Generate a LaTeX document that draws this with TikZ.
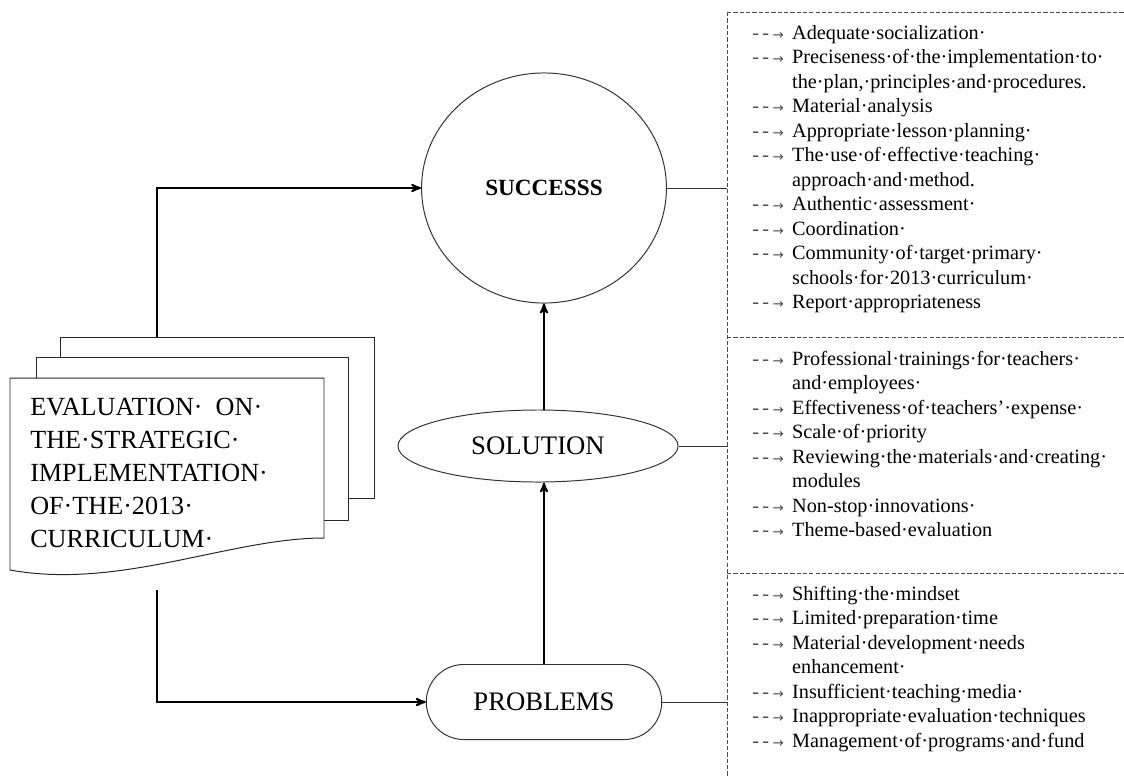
\documentclass[tikz,border=0pt]{standalone}
\usepackage{fontspec}
\setmainfont{Liberation Serif}
\newfontfamily\arrowfont{DejaVu Sans}
\usetikzlibrary{positioning,arrows,shapes.geometric,shapes.misc}
\newcommand{\mrk}{\textcolor{black!70}{-\,-\,{\arrowfont\fontsize{9.5}{9.5}\selectfont →}}}

\begin{document}
\begin{tikzpicture}
    [x=0.025cm,y=-0.025cm,>=stealth',
     flow/.style={->,line width=1.4pt},
     link/.style={line width=0.6pt,draw=black!80},
     sheet/.style={draw=black!85,line width=0.7pt,fill=white},
     frame/.style={draw=black!70,dash pattern=on 3pt off 1.5pt,line width=0.5pt},
     list/.style={anchor=north west,inner sep=0pt,font=\fontsize{14.4}{17.4}\selectfont},
     bubble/.style={draw=black!80,line width=0.7pt,font=\fontsize{19}{22}\selectfont}]
    \useasboundingbox (0,0) rectangle (1124,777);

    % stacked document
    \draw[sheet] (60,337) rectangle (374,498);
    \draw[sheet] (36,357) rectangle (348,520);
    \draw[sheet] (10,378) -- (324,378) -- (324,538)
      .. controls (230,538) and (120,590) .. (10,570) -- cycle;
    \node[anchor=north west,inner sep=0pt,align=left,font=\fontsize{18.6}{23.5}\selectfont] (doc) at (30,398)
      {EVALUATION·\ \ ON·\\THE·STRATEGIC·\\IMPLEMENTATION·\\OF·THE·2013·\\CURRICULUM·};
    \coordinate (up) at (157,337);
    \coordinate (down) at (157,590);

    \node[bubble,ellipse,minimum width=6.12cm,minimum height=5.75cm,
      font=\bfseries\fontsize{16.5}{19}\selectfont] (success) at (544,188) {SUCCESSS};
    \node[bubble,ellipse,minimum width=7cm,minimum height=1.8cm] (solution) at (538,446) {SOLUTION};
    \node[bubble,rounded rectangle,minimum width=6.12cm,minimum height=1.875cm] (problems) at (544,702) {PROBLEMS};

    \draw[flow] (up) |- (success.west);
    \draw[flow] (down) |- (problems.west);
    \draw[flow] (problems.north) -- (problems.north |- solution.south);
    \draw[flow] (solution.north -| success.south) -- (success.south);

    % dashed frames
    \coordinate (rim) at (727,0);
    \draw[frame] (727,12) -- (1124,12);
    \draw[frame] (727,337) -- (1124,337);
    \draw[frame] (727,573) -- (1124,573);
    \draw[frame] (727,12) -- (727,777);
    \draw[link] (success.east) -- (success.east -| rim);
    \draw[link] (solution.east) -- (solution.east -| rim);
    \draw[link] (problems.east) -- (problems.east -| rim);

    \node[list] (goods) at (752,22) {\begin{tabular}{@{}l@{\hspace{6pt}}l@{}}
      \mrk & Adequate·socialization· \\
      \mrk & Preciseness·of·the·implementation·to· \\
           & the·plan,·principles·and·procedures. \\
      \mrk & Material·analysis \\
      \mrk & Appropriate·lesson·planning· \\
      \mrk & The·use·of·effective·teaching· \\
           & approach·and·method. \\
      \mrk & Authentic·assessment· \\
      \mrk & Coordination· \\
      \mrk & Community·of·target·primary· \\
           & schools·for·2013·curriculum· \\
      \mrk & Report·appropriateness
    \end{tabular}};
    \node[list] (fixes) at (752,348) {\begin{tabular}{@{}l@{\hspace{6pt}}l@{}}
      \mrk & Professional·trainings·for·teachers· \\
           & and·employees· \\
      \mrk & Effectiveness·of·teachers’·expense· \\
      \mrk & Scale·of·priority \\
      \mrk & Reviewing·the·materials·and·creating· \\
           & modules \\
      \mrk & Non-stop·innovations· \\
      \mrk & Theme-based·evaluation
    \end{tabular}};
    \node[list] (issues) at (752,583) {\begin{tabular}{@{}l@{\hspace{6pt}}l@{}}
      \mrk & Shifting·the·mindset \\
      \mrk & Limited·preparation·time \\
      \mrk & Material·development·needs \\
           & enhancement· \\
      \mrk & Insufficient·teaching·media· \\
      \mrk & Inappropriate·evaluation·techniques \\
      \mrk & Management·of·programs·and·fund
    \end{tabular}};
\end{tikzpicture}
\end{document}
